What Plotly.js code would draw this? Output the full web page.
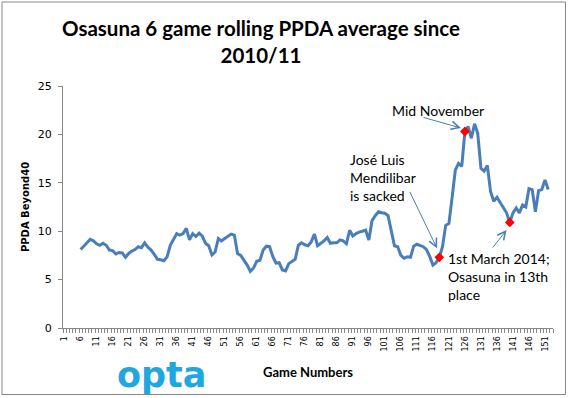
<!DOCTYPE html>
<html>
<head>
<meta charset="utf-8">
<script src="https://cdn.plot.ly/plotly-3.0.1.min.js"></script>
<style>html,body{margin:0;padding:0;background:#fff;}#chart{width:568px;height:398px;}</style>
</head>
<body>
<div id="chart"></div>
<script>
// Game numbers (x categories) and 6-game rolling PPDA values
const games = [6,7,8,9,10,11,12,13,14,15,16,17,18,19,20,21,22,23,24,25,26,27,28,29,30,31,32,33,34,35,
  36,37,38,39,40,41,42,43,44,45,46,47,48,49,50,51,52,53,54,55,56,57,58,59,60,61,62,63,64,65,
  66,67,68,69,70,71,72,73,74,75,76,77,78,79,80,81,82,83,84,85,86,87,88,89,90,91,92,93,94,95,
  96,97,98,99,100,101,102,103,104,105,106,107,108,109,110,111,112,113,114,115,116,117,118,119,120,
  121,122,123,124,125,126,127,128,129,130,131,132,133,134,135,136,137,138,139,140,141,142,143,144,145,
  146,147,148,149,150,151,152];
const ppda = [8.1,8.4,8.8,9.15,9.0,8.7,8.55,8.75,8.55,8.05,
  8.0,7.65,7.8,7.75,7.3,7.7,7.95,8.1,8.4,8.3,
  8.8,8.35,8.05,7.6,7.1,7.05,6.95,7.35,8.55,9.15,
  9.75,9.6,9.75,10.3,9.1,9.75,9.45,9.8,9.5,8.75,
  8.5,7.55,7.85,9.25,9.0,9.25,9.5,9.7,9.6,7.7,
  7.5,7.05,6.5,5.85,6.2,6.9,7.0,8.05,8.45,8.4,
  7.4,6.7,6.75,6.0,5.9,6.65,6.9,7.1,8.55,8.8,
  8.6,8.5,8.9,9.7,8.5,8.75,9.0,9.35,8.75,8.8,
  8.8,9.1,9.0,8.7,10.1,9.5,9.75,9.9,10.0,10.1,
  9.1,11.1,11.6,12.0,11.9,11.85,11.6,10.1,8.5,8.4,
  7.5,7.2,7.35,7.3,8.45,8.65,8.55,8.4,8.1,7.4,
  6.5,6.75,7.3,8.4,10.6,10.8,13.5,16.3,17.0,16.7,
  20.3,20.8,19.6,21.1,20.1,16.5,16.2,16.8,14.1,13.1,
  13.5,13.0,12.4,11.9,10.9,11.9,12.4,11.9,12.7,12.5,
  14.4,14.3,12.0,14.2,14.3,15.3,14.3];
// Highlighted games (red diamonds)
const keyGames = [118, 126, 140];
const keyValues = keyGames.map(g => ppda[games.indexOf(g)]);
const xTickStart = 1, xTickStep = 5;
const yTicks = [0,5,10,15,20,25];

const blue = '#4a7ebb';
const axisGrey = '#868686';

const traces = [
  {x: games, y: ppda, type: 'scatter', mode: 'lines',
   line: {color: blue, width: 3}, hoverinfo: 'x+y'},
  {x: keyGames, y: keyValues, type: 'scatter', mode: 'markers',
   marker: {symbol: 'diamond', size: 7.5, color: '#ff0000'}, hoverinfo: 'x+y'}
];

const PL = 63, PR = 15, PT = 86, PB = 70, W = 568, H = 398;
const pw = W - PL - PR, ph = H - PT - PB;
const px = v => (v - PL) / pw;          // pixel -> paper x
const py = v => (H - PB - v) / ph;      // pixel -> paper y

const txtFont = {family: 'Lato, "Open Sans", sans-serif', size: 14, color: '#000'};

const layout = {
  width: W, height: H,
  margin: {l: PL, r: PR, t: PT, b: PB, pad: 0},
  paper_bgcolor: '#fff', plot_bgcolor: '#fff',
  showlegend: false,
  annotations: [
    {text: 'Osasuna 6 game rolling PPDA average since<br>2010/11', xref: 'paper', yref: 'paper',
     x: px(260.5), y: py(41.5), xanchor: 'center', yanchor: 'middle', showarrow: false,
     font: {family: 'Lato, sans-serif', size: 20.5, weight: 'bold', color: '#000'}},
    {text: 'Game Numbers', xref: 'paper', yref: 'paper', x: 0.5, y: py(372),
     xanchor: 'center', yanchor: 'middle', showarrow: false,
     font: {family: 'Lato, sans-serif', size: 13, weight: 'bold', color: '#000'}},
    {text: 'Mid November', xref: 'paper', yref: 'paper', x: px(438), y: py(110),
     xanchor: 'center', yanchor: 'middle', showarrow: false, font: txtFont},
    {text: 'José Luis<br>Mendilibar<br>is sacked', xref: 'paper', yref: 'paper', x: px(348), y: py(177),
     xanchor: 'left', yanchor: 'middle', align: 'left', showarrow: false, font: txtFont},
    {text: '1st March 2014;<br>Osasuna in 13th<br>place', xref: 'paper', yref: 'paper', x: px(446), y: py(276.5),
     xanchor: 'left', yanchor: 'middle', align: 'left', showarrow: false, font: txtFont},
    // arrows
    {text: '', x: 124.75, y: 20.66, xref: 'x', yref: 'y', ax: -39, ay: -11, showarrow: true,
     arrowhead: 5, arrowsize: 1.6, arrowwidth: 1, arrowcolor: blue, standoff: 0},
    {text: '', x: 117.3, y: 8.23, xref: 'x', yref: 'y', ax: -28, ay: -58, showarrow: true,
     arrowhead: 5, arrowsize: 1.6, arrowwidth: 1, arrowcolor: blue, standoff: 0},
    {text: '', x: 139.0, y: 10.12, xref: 'x', yref: 'y', ax: -15, ay: 19, showarrow: true,
     arrowhead: 5, arrowsize: 1.6, arrowwidth: 1, arrowcolor: blue, standoff: 0},
    // opta logo
    {text: 'opta', xref: 'paper', yref: 'paper', x: px(161.5), y: py(375),
     xanchor: 'center', yanchor: 'middle', showarrow: false,
     font: {family: '"DejaVu Sans", sans-serif', size: 35, weight: 'bold', color: '#1ea7e1'}}
  ],
  xaxis: {
    range: [0.5, 153.5], tickmode: 'linear', tick0: xTickStart, dtick: xTickStep,
    ticks: '', tickangle: -90, ticklabelstandoff: 4,
    tickfont: {family: '"DejaVu Sans", Verdana, sans-serif', size: 8, color: '#000'},
    minor: {ticks: 'outside', ticklen: 4, tick0: 0.5, dtick: 1, tickcolor: axisGrey, tickwidth: 1, showgrid: false},
    showline: true, linecolor: axisGrey, linewidth: 1, showgrid: false, zeroline: false,
    fixedrange: true
  },
  yaxis: {
    range: [0, 25], tickmode: 'array', tickvals: yTicks, ticks: 'outside', ticklen: 4,
    tickcolor: axisGrey, ticklabelstandoff: 4,
    tickfont: {family: '"DejaVu Sans", Verdana, sans-serif', size: 11, color: '#000'},
    showline: true, linecolor: axisGrey, linewidth: 1, showgrid: false, zeroline: false,
    title: {text: 'PPDA Beyond40', standoff: 6,
      font: {family: '"DejaVu Sans", Verdana, sans-serif', size: 10, weight: 'bold', color: '#000'}},
    fixedrange: true
  },
  shapes: [
    {type: 'rect', xref: 'paper', yref: 'paper', x0: px(2), x1: px(565.5), y0: py(394.5), y1: py(2),
     line: {color: axisGrey, width: 1}, fillcolor: 'rgba(0,0,0,0)', layer: 'below'}
  ]
};

Plotly.newPlot('chart', traces, layout, {displayModeBar: false, staticPlot: true});
</script>
</body>
</html>
